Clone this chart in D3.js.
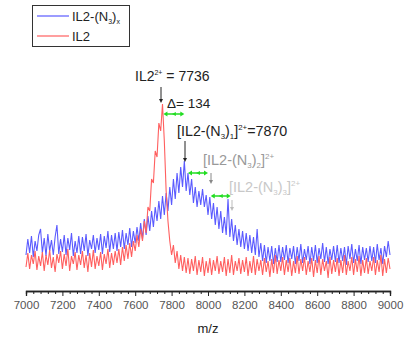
<!DOCTYPE html>
<html>
<head>
<meta charset="utf-8">
<script src="https://cdn.jsdelivr.net/npm/d3@7"></script>
<style>
  body { margin: 0; background: #fff; }
  text { font-family: "Liberation Sans", Arial, sans-serif; }
</style>
</head>
<body>
<div id="chart"></div>
<script>
// m/z grid, step 10 from 7000 to 9000
const mzStart = 7000, mzStep = 10;

// IL2-(N3)x intensities (a.u.)
const blueValues = [
  36, 52, 38, 55, 34, 50, 40, 56, 62, 38,
  53, 35, 57, 40, 51, 36, 54, 66, 37, 52,
  39, 56, 36, 53, 41, 58, 35, 50, 38, 55,
  37, 54, 40, 57, 35, 51, 42, 56, 38, 53,
  41, 57, 37, 55, 43, 60, 39, 56, 42, 58,
  40, 59, 44, 61, 42, 58, 46, 63, 44, 60,
  48, 64, 50, 68, 52, 72, 56, 75, 60, 80,
  64, 84, 70, 90, 72, 95, 76, 98, 80, 104,
  86, 112, 92, 118, 98, 124, 104, 130, 100, 118,
  96, 112, 88, 104, 84, 100, 86, 102, 84, 96,
  76, 94, 72, 88, 66, 84, 62, 80, 58, 74,
  56, 92, 54, 72, 50, 66, 46, 62, 44, 60,
  42, 58, 40, 56, 38, 54, 36, 62, 34, 48,
  30, 46, 28, 44, 30, 45, 27, 43, 29, 46,
  29, 44, 31, 46, 28, 43, 32, 45, 27, 44,
  30, 47, 28, 42, 31, 45, 27, 44, 30, 46,
  28, 43, 32, 48, 29, 44, 27, 42, 31, 45,
  29, 46, 28, 43, 30, 44, 26, 45, 32, 47,
  28, 42, 30, 46, 27, 44, 31, 43, 29, 45,
  30, 44, 28, 47, 31, 43, 27, 45, 34, 50,
  36
];

// IL2 intensities (a.u.)
const redValues = [
  24, 38, 22, 36, 27, 40, 21, 35, 25, 39,
  20, 36, 26, 41, 23, 34, 19, 37, 28, 40,
  22, 37, 25, 42, 20, 35, 27, 39, 21, 36,
  26, 40, 23, 36, 19, 38, 24, 41, 22, 35,
  25, 39, 21, 37, 27, 42, 23, 38, 26, 40,
  28, 42, 26, 44, 30, 46, 32, 48, 34, 50,
  40, 56, 44, 62, 50, 70, 58, 84, 80, 112,
  108, 140, 134, 168, 160, 187, 150, 100, 70, 50,
  36, 46, 28, 40, 22, 36, 20, 34, 18, 33,
  17, 32, 20, 35, 16, 31, 19, 34, 15, 30,
  18, 33, 16, 31, 20, 35, 17, 30, 19, 34,
  15, 32, 18, 36, 16, 30, 20, 33, 17, 31,
  19, 34, 15, 30, 18, 35, 16, 32, 20, 31,
  16, 33, 19, 30, 14, 32, 18, 36, 17, 31,
  20, 34, 16, 31, 19, 33, 15, 30, 18, 35,
  17, 32, 20, 34, 16, 30, 19, 33, 14, 31,
  18, 35, 16, 32, 20, 30, 13, 34, 17, 31,
  19, 33, 15, 31, 18, 36, 16, 30, 20, 34,
  16, 32, 19, 35, 15, 31, 18, 33, 17, 30,
  20, 34, 16, 31, 19, 36, 15, 32, 18, 33,
  22
];

const xTicks = [7000, 7200, 7400, 7600, 7800, 8000, 8200, 8400, 8600, 8800, 9000];

const width = 406, height = 338;
const margin = { left: 26, right: 16, top: 91, bottom: 47 };

const svg = d3.select('#chart')
  .append('svg')
  .attr('width', width)
  .attr('height', height);

const x = d3.scaleLinear()
  .domain([7000, 9000])
  .range([margin.left, width - margin.right]);

const y = d3.scaleLinear()
  .domain([0, 200])
  .range([height - margin.bottom, margin.top]);

const line = d3.line()
  .x((d, i) => x(mzStart + i * mzStep))
  .y(d => y(d));

svg.append('path')
  .datum(blueValues)
  .attr('fill', 'none')
  .attr('stroke', '#5b5bff')
  .attr('stroke-width', 1.1)
  .attr('d', line);

svg.append('path')
  .datum(redValues)
  .attr('fill', 'none')
  .attr('stroke', '#ff5f5f')
  .attr('stroke-width', 1.1)
  .attr('d', line);

// x axis
const axisY = height - margin.bottom;
const xAxis = svg.append('g')
  .attr('transform', 'translate(0,' + axisY + ')');

xAxis.call(d3.axisBottom(x).tickValues(d3.range(7000, 9001, 40)).tickSize(3).tickFormat(''));
xAxis.call(g => g.selectAll('.tick').filter(d => d % 200 === 0).remove());
const majorAxis = svg.append('g')
  .attr('transform', 'translate(0,' + axisY + ')')
  .call(d3.axisBottom(x).tickValues(xTicks).tickSize(5).tickPadding(5).tickFormat(d3.format('d')));

svg.selectAll('.domain').attr('stroke', '#222').attr('stroke-width', 1.3);
svg.selectAll('.tick line').attr('stroke', '#222');
majorAxis.selectAll('text')
  .attr('font-size', 11.5)
  .attr('fill', '#555')
  .style('font-family', '"Liberation Sans", Arial, sans-serif');

svg.append('text')
  .attr('x', (x(7000) + x(9000)) / 2)
  .attr('y', 333)
  .attr('text-anchor', 'middle')
  .attr('font-size', 13)
  .attr('fill', '#222')
  .text('m/z');

// legend
svg.append('rect')
  .attr('x', 32.5).attr('y', 5.5)
  .attr('width', 97).attr('height', 41)
  .attr('fill', '#fff')
  .attr('stroke', '#333');

const legendItems = [
  { color: '#5b5bff', yy: 16, label: 'IL2-(N', sub: '3', after: ')', sub2: 'x' },
  { color: '#ff5f5f', yy: 36, label: 'IL2' }
];
legendItems.forEach(it => {
  svg.append('line')
    .attr('x1', 37).attr('x2', 69)
    .attr('y1', it.yy).attr('y2', it.yy)
    .attr('stroke', it.color).attr('stroke-width', 1.2);
  const t = svg.append('text')
    .attr('x', 72).attr('y', it.yy + 5)
    .attr('font-size', 13).attr('fill', '#222');
  t.append('tspan').text(it.label);
  if (it.sub) {
    t.append('tspan').attr('font-size', 7).attr('dy', 3).text(it.sub);
    t.append('tspan').attr('dy', -3).text(it.after);
    t.append('tspan').attr('font-size', 7).attr('dy', 3).text(it.sub2);
  }
});

// annotations
function arrowDown(xp, y1, y2, color) {
  svg.append('line').attr('x1', xp).attr('x2', xp).attr('y1', y1).attr('y2', y2 - 3)
    .attr('stroke', color).attr('stroke-width', 1);
  svg.append('path')
    .attr('d', `M${xp - 2},${y2 - 4}L${xp + 2},${y2 - 4}L${xp},${y2}Z`)
    .attr('fill', color);
}
function greenArrow(x1, x2, yy) {
  svg.append('line').attr('x1', x1 + 2).attr('x2', x2 - 2).attr('y1', yy).attr('y2', yy)
    .attr('stroke', '#22dd22').attr('stroke-width', 1.5);
  svg.append('path').attr('d', `M${x1},${yy}L${x1 + 4},${yy - 2.5}L${x1 + 4},${yy + 2.5}Z`).attr('fill', '#22dd22');
  svg.append('path').attr('d', `M${x2},${yy}L${x2 - 4},${yy - 2.5}L${x2 - 4},${yy + 2.5}Z`).attr('fill', '#22dd22');
  svg.append('path').attr('d', `M${(x1 + x2) / 2 - 2},${yy}L${(x1 + x2) / 2 + 2},${yy - 2}L${(x1 + x2) / 2 + 2},${yy + 2}Z`).attr('fill', '#22dd22');
}

const t1 = svg.append('text').attr('x', 135).attr('y', 81).attr('font-size', 14).attr('fill', '#222');
t1.append('tspan').text('IL2');
t1.append('tspan').attr('font-size', 7).attr('dy', -6).text('2+');
t1.append('tspan').attr('dy', 6).text(' = 7736');
arrowDown(161, 87, 103, '#222');

svg.append('text').attr('x', 167).attr('y', 108).attr('font-size', 13.5).attr('fill', '#222').text('Δ= 134');
greenArrow(x(7755), x(7870), 114);

function complexLabel(xp, yp, n, color, size) {
  const t = svg.append('text').attr('x', xp).attr('y', yp).attr('font-size', size).attr('fill', color);
  t.append('tspan').text('[IL2-(N');
  t.append('tspan').attr('font-size', size * 0.55).attr('dy', 3).text('3');
  t.append('tspan').attr('dy', -3).text(')');
  t.append('tspan').attr('font-size', size * 0.55).attr('dy', 3).text(n);
  t.append('tspan').attr('dy', -3).text(']');
  t.append('tspan').attr('font-size', size * 0.55).attr('dy', -6).text('2+');
  return t;
}
const t2 = complexLabel(177, 136, '1', '#222', 14.3);
t2.append('tspan').attr('dy', 6).text('=7870');
arrowDown(185, 141, 162, '#222');
greenArrow(x(7890), x(8000), 173);

complexLabel(203, 165, '2', '#999', 14.5);
arrowDown(211, 173, 184, '#888');
greenArrow(x(8015), x(8125), 196);

complexLabel(229, 192, '3', '#c8c8c8', 14.5);
arrowDown(232, 200, 211, '#bbb');
</script>
</body>
</html>
